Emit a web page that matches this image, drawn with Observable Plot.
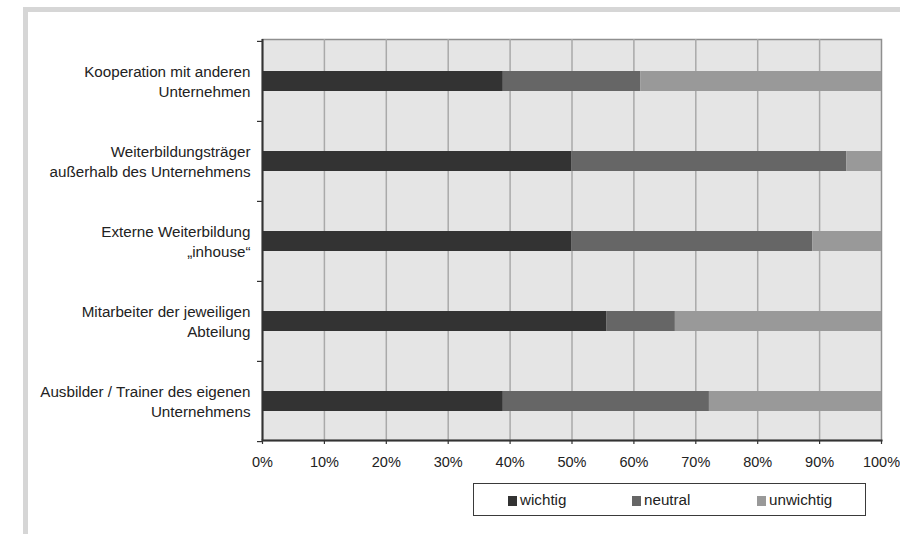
<!DOCTYPE html>
<html>
<head>
<meta charset="utf-8">
<script src="https://cdn.jsdelivr.net/npm/d3@7"></script>
<script src="https://cdn.jsdelivr.net/npm/@observablehq/plot@0.6"></script>
<style>
  html, body { margin: 0; padding: 0; background: #fff; overflow: hidden; }
  #page { position: relative; width: 900px; height: 534px; overflow: hidden; font-family: "Liberation Sans", Arial, sans-serif; }
  .bar { position: absolute; background: #d6d6d6; }
  #bar-top { left: 23px; top: 7px; width: 877px; height: 5px; }
  #bar-left { left: 23px; top: 7px; width: 5px; height: 527px; }
  #chart { position: absolute; left: 0; top: 0; }
  #legend { position: absolute; left: 473px; top: 483px; width: 393px; height: 33px;
            border: 1px solid #3a3a3a; background: #fff; box-sizing: border-box; }
  .item { position: absolute; top: 7px; font-size: 15.2px; color: #222; line-height: 17px; white-space: nowrap; }
  .sw { display: inline-block; width: 9px; height: 10px; margin-right: 3px; vertical-align: -1px; }
</style>
</head>
<body>
<div id="page">
  <div class="bar" id="bar-top"></div>
  <div class="bar" id="bar-left"></div>
  <div id="chart"></div>
  <div id="legend"></div>
</div>
<script>
// Survey: importance of training providers (share of answers, %)
const categories = [
  "Kooperation mit anderen Unternehmen",
  "Weiterbildungsträger außerhalb des Unternehmens",
  "Externe Weiterbildung „inhouse“",
  "Mitarbeiter der jeweiligen Abteilung",
  "Ausbilder / Trainer des eigenen Unternehmens"
];
const categoryLines = [
  "Kooperation mit anderen\nUnternehmen",
  "Weiterbildungsträger\naußerhalb des Unternehmens",
  "Externe Weiterbildung\n„inhouse“",
  "Mitarbeiter der jeweiligen\nAbteilung",
  "Ausbilder / Trainer des eigenen\nUnternehmens"
];
const series = ["wichtig", "neutral", "unwichtig"];
const colors = ["#333333", "#666666", "#999999"];
const wichtig   = [38.9, 50.0, 50.0, 55.6, 38.9];
const neutral   = [22.2, 44.4, 38.9, 11.1, 33.3];
const unwichtig = [38.9,  5.6, 11.1, 33.3, 27.8];
const xTicks = [0, 10, 20, 30, 40, 50, 60, 70, 80, 90, 100];

const values = {wichtig, neutral, unwichtig};
const rows = series.flatMap(s => categories.map((c, i) => ({category: c, series: s, value: values[s][i]})));
const labelOf = new Map(categories.map((c, i) => [c, categoryLines[i]]));

const W = 900, H = 534;
const mL = 262, mR = 19, mT = 39, mB = 94;
const step = (H - mT - mB) / categories.length; // paddingInner and paddingOuter chosen so step = range / n

const chart = Plot.plot({
  width: W, height: H,
  marginLeft: mL, marginRight: mR, marginTop: mT, marginBottom: mB,
  style: {fontFamily: "'Liberation Sans', Arial, sans-serif", fontSize: "14.5px", color: "#222", background: "transparent", overflow: "visible"},
  x: {domain: [0, 100], axis: null},
  y: {domain: categories, paddingInner: 0.75, paddingOuter: 0.375, align: 0.52, axis: null},
  color: {domain: series, range: colors},
  marks: [
    Plot.frame({fill: "#e5e5e5", stroke: "#8f8f8f", strokeWidth: 1.5}),
    Plot.ruleX(xTicks.slice(1, -1), {stroke: "#a9a9a9", strokeWidth: 1.5}),
    Plot.barX(rows, Plot.stackX({y: "category", x: "value", fill: "series", order: series, inset: 0})),
    Plot.ruleX([0], {stroke: "#333", strokeWidth: 2}),
    Plot.frame({anchor: "bottom", stroke: "#333", strokeWidth: 2}),
    Plot.axisX({ticks: xTicks, tickSize: 4, tickPadding: 12, tickFormat: d => d + "%", stroke: "#333", strokeWidth: 1.2, label: null, fill: "#222"}),
    Plot.axisY({tickSize: 5, tickFormat: () => "", dy: -step / 2, stroke: "#333", strokeWidth: 1.2, label: null}),
    Plot.axisY({ticks: categories.slice(-1), tickSize: 5, tickFormat: () => "", dy: step / 2, stroke: "#333", strokeWidth: 1.2, label: null}),
    Plot.text(categories, {y: d => d, text: d => labelOf.get(d), frameAnchor: "left", textAnchor: "end", dx: -12, dy: -1, lineHeight: 1.333, fontSize: 15.2, fill: "#222"})
  ]
});
document.getElementById("chart").appendChild(chart);

// legend
const legend = document.getElementById("legend");
const itemLeft = [34, 158, 283];
series.forEach((s, i) => {
  const el = document.createElement("div");
  el.className = "item";
  el.style.left = itemLeft[i] + "px";
  el.innerHTML = `<span class="sw" style="background:${colors[i]}"></span>${s}`;
  legend.appendChild(el);
});
</script>
</body>
</html>
